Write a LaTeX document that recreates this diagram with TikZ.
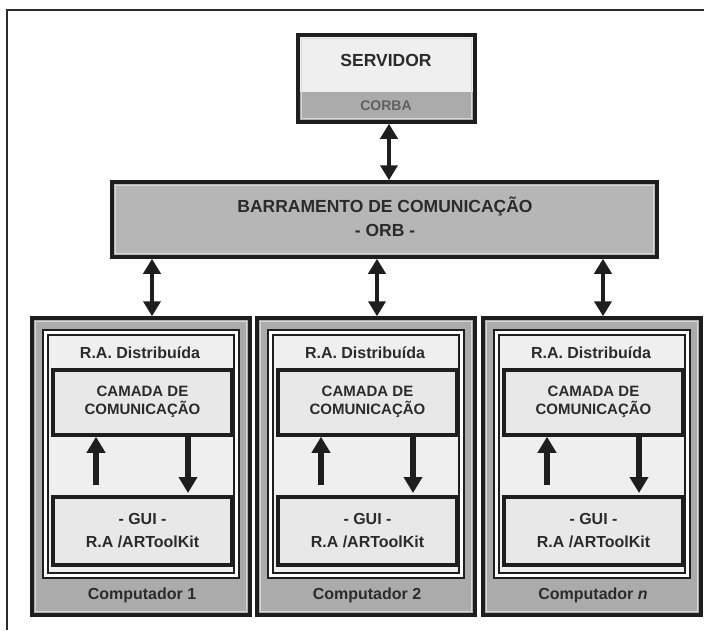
\documentclass[tikz,border=0pt]{standalone}
\usepackage{fontspec}
\setmainfont{Liberation Sans}
\usetikzlibrary{arrows.meta}

\definecolor{inkc}{HTML}{2B2B2B}
\definecolor{edgec}{HTML}{1E1E1E}
\definecolor{lightfill}{HTML}{EFEFEF}
\definecolor{bandfill}{HTML}{ABABAB}
\definecolor{busfill}{HTML}{B6B6B6}
\definecolor{hilite}{HTML}{D8D8D8}
\definecolor{boxfill}{HTML}{E8E8E8}

\tikzset{
  pagerule/.style={draw=inkc, line width=1.4pt},
  panel/.style={draw=edgec, line width=3.5pt, inner sep=0pt},
  frameouter/.style={draw=edgec, line width=1.8pt, fill=white, inner sep=0pt},
  frameinner/.style={draw=edgec, line width=1.4pt, fill=lightfill, inner sep=0pt},
  insetline/.style={draw=hilite, line width=1pt},
  label/.style={text=inkc, font=\bfseries\fontsize{15}{18}\selectfont, inner sep=0pt, align=center},
  biglabel/.style={text=inkc, font=\bfseries\fontsize{17.5}{24}\selectfont, inner sep=0pt, align=center},
  twoway/.style={draw=edgec, line width=4.5pt,
    {Triangle[width=17pt,length=15pt]}-{Triangle[width=17pt,length=15pt]}},
  oneway/.style={draw=edgec, line width=5.5pt, -{Triangle[width=18pt,length=16pt]}},
}

\begin{document}
\begin{tikzpicture}[x=1pt, y=-1pt]
  \useasboundingbox (0,0) rectangle (704,630);

  % page rule (top and left)
  \coordinate (ruleA) at (7,630);
  \coordinate (ruleB) at (7,10);
  \coordinate (ruleC) at (704,10);
  \draw[pagerule] (ruleA) -- (ruleB) -- (ruleC);

  % server with CORBA band
  \node[panel, fill=lightfill, minimum width=177pt, minimum height=87pt,
        path picture={\fill[bandfill] ([yshift=30pt]path picture bounding box.south west)
                      rectangle (path picture bounding box.south east);}]
        (srv) at (386.5,78.5) {};
  \draw[insetline] ([shift={(5pt,-5pt)}]srv.north west) rectangle ([shift={(-5pt,5pt)}]srv.south east);
  \draw[draw=edgec, line width=3.5pt] (srv.north west) ++(1.75pt,-1.75pt) rectangle ([shift={(-1.75pt,1.75pt)}]srv.south east);
  \node[biglabel] (srvname) at (386,60) {SERVIDOR};
  \node[label, text=inkc!75, font=\bfseries\fontsize{14}{16}\selectfont] (corba) at (386,106) {CORBA};

  % communication bus
  \node[panel, fill=busfill, minimum width=545pt, minimum height=75pt] (bus) at (384.5,219.5) {};
  \draw[insetline] ([shift={(5pt,-5pt)}]bus.north west) rectangle ([shift={(-5pt,5pt)}]bus.south east);
  \node[biglabel] (busname) at (385,217) {BARRAMENTO DE COMUNICAÇÃO\\- ORB -};

  \draw[twoway] ([xshift=2.5pt]srv.south) -- ([xshift=2.5pt]srv.south |- bus.north);

  % client computers
  \foreach \x/\lab/\id in {32/Computador 1/1, 257/Computador 2/2, 483/Computador \textit{n}/3}{
    \node[panel, fill=bandfill, minimum width=218pt, minimum height=297pt] (pc\id) at (\x+109,466.5) {};
    \draw[insetline] ([shift={(5pt,-5pt)}]pc\id.north west) rectangle ([shift={(-5pt,5pt)}]pc\id.south east);
    \node[frameouter, minimum width=196pt, minimum height=248pt] (fa\id) at (\x+109,454) {};
    \node[frameinner, minimum width=186pt, minimum height=238pt] (fb\id) at (\x+109,454) {};
    \node[label, font=\bfseries\fontsize{16}{18}\selectfont] (ra\id) at (\x+108,353) {R.A. Distribuída};
    \node[panel, fill=boxfill, minimum width=179pt, minimum height=65pt] (cam\id) at (\x+110.5,402.5) {};
    \node[label] (camtxt\id) at (\x+110.5,402) {CAMADA DE\\COMUNICAÇÃO};
    \node[panel, fill=boxfill, minimum width=179pt, minimum height=68pt] (gui\id) at (\x+110.5,531) {};
    \node[label, font=\bfseries\fontsize{16}{23}\selectfont] (guitxt\id) at (\x+110.5,531) {- GUI -\\R.A /ARToolKit};
    \node[label, font=\bfseries\fontsize{16}{18}\selectfont] (pcname\id) at (\x+110,595) {\lab};

    % traffic between the layers
    \coordinate (up\id) at (\x+64,485);
    \coordinate (dn\id) at (\x+156,493);
    \draw[oneway] (up\id) -- (up\id |- cam\id.south);
    \draw[oneway] (dn\id |- cam\id.south) -- (dn\id);

    % link to the bus
    \draw[twoway] ([xshift=11pt]pc\id.north |- bus.south) -- ([xshift=11pt]pc\id.north);
  }
\end{tikzpicture}
\end{document}
